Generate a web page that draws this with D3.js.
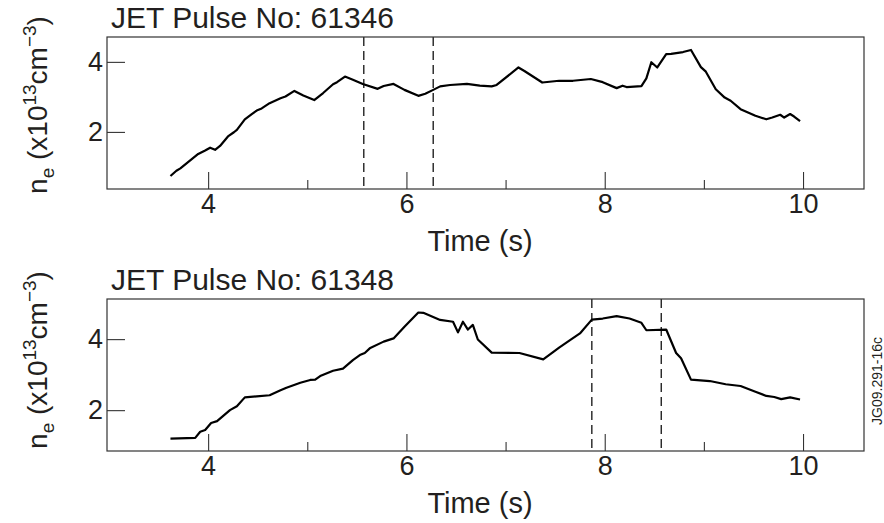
<!DOCTYPE html>
<html>
<head>
<meta charset="utf-8">
<script src="https://cdn.jsdelivr.net/npm/d3@7"></script>
<style>
  html, body { margin: 0; padding: 0; background: #fff; }
  svg { display: block; }
  text { font-family: "Liberation Sans", Arial, Helvetica, sans-serif; fill: #231f20; }
</style>
</head>
<body>
<svg id="chart" width="884" height="523"></svg>
<script>
// Electron density traces for two JET pulses
const pulseIds = ["61346", "61348"];

const time61346 = [3.62,3.68,3.72,3.90,3.97,4.02,4.07,4.12,4.20,4.26,4.29,4.37,4.44,4.49,4.54,4.62,4.73,4.78,4.87,4.96,
  5.07,5.16,5.26,5.30,5.38,5.46,5.56,5.71,5.77,5.87,5.98,6.12,6.19,6.27,6.34,6.44,6.61,6.74,6.86,6.91,
  7.13,7.19,7.37,7.54,7.68,7.86,7.98,8.12,8.18,8.22,8.37,8.42,8.47,8.53,8.62,8.67,8.79,8.87,8.97,9.02,
  9.12,9.21,9.27,9.37,9.52,9.63,9.69,9.77,9.81,9.87,9.91,9.97];
const ne61346 = [0.74,0.89,0.96,1.37,1.47,1.55,1.49,1.60,1.87,1.99,2.06,2.36,2.51,2.61,2.67,2.82,2.96,3.01,3.17,3.04,
  2.91,3.11,3.36,3.42,3.58,3.49,3.37,3.23,3.31,3.37,3.20,3.03,3.09,3.20,3.30,3.34,3.37,3.32,3.30,3.34,
  3.84,3.74,3.41,3.46,3.46,3.51,3.42,3.25,3.32,3.28,3.31,3.53,3.99,3.84,4.22,4.23,4.28,4.34,3.85,3.72,
  3.22,2.98,2.89,2.65,2.46,2.36,2.41,2.49,2.41,2.51,2.44,2.31];

const time61348 = [3.62,3.87,3.92,3.97,4.03,4.09,4.22,4.29,4.37,4.49,4.62,4.73,4.79,4.93,5.03,5.08,5.13,5.26,5.36,5.46,
  5.53,5.58,5.63,5.77,5.87,5.98,6.12,6.17,6.34,6.47,6.52,6.57,6.62,6.67,6.72,6.86,7.14,7.38,7.54,7.65,
  7.75,7.87,7.98,8.12,8.25,8.37,8.42,8.62,8.72,8.77,8.87,9.06,9.22,9.37,9.52,9.63,9.71,9.78,9.87,9.97];
const ne61348 = [1.20,1.22,1.39,1.44,1.64,1.69,2.00,2.11,2.36,2.39,2.42,2.56,2.63,2.77,2.85,2.86,2.96,3.11,3.17,3.41,
  3.55,3.61,3.74,3.93,4.02,4.35,4.75,4.74,4.54,4.49,4.19,4.49,4.27,4.40,3.99,3.62,3.61,3.43,3.76,3.97,
  4.16,4.55,4.58,4.65,4.58,4.46,4.25,4.27,3.61,3.46,2.86,2.82,2.73,2.68,2.52,2.40,2.37,2.31,2.36,2.30];

// Time window markers (dashed verticals)
const marks61346 = [5.57, 6.27];
const marks61348 = [7.87, 8.57];

// Tick values
const xMajorTicks = [4, 6, 8, 10];
const xMinorTicks = [5, 7, 9];
const yTicks = [2, 4];

const xDomain = [2.98, 10.615];
const yDomain61346 = [0.37, 4.71];
const yDomain61348 = [0.85, 5.13];

const panels = [
  { id: pulseIds[0], time: time61346, ne: ne61346, marks: marks61346, yDomain: yDomain61346, top: 37, labelY: 105 },
  { id: pulseIds[1], time: time61348, ne: ne61348, marks: marks61348, yDomain: yDomain61348, top: 299, labelY: 360 }
];

const svg = d3.select("#chart");
const left = 107, right = 864, panelH = 152;
const x = d3.scaleLinear().domain(xDomain).range([left, right]);

panels.forEach(p => {
  const bottom = p.top + panelH;
  const y = d3.scaleLinear().domain(p.yDomain).range([bottom, p.top]);
  const g = svg.append("g");

  // title
  g.append("text")
    .attr("x", 111).attr("y", p.top - 9)
    .attr("font-size", 30)
    .text("JET Pulse No: " + p.id);

  // major x ticks with labels (ticks point inward)
  const xAxis = g.append("g")
    .attr("transform", `translate(0,${bottom})`)
    .call(d3.axisBottom(x).tickValues(xMajorTicks).tickSize(-17).tickPadding(22).tickFormat(d3.format("d")));
  xAxis.select(".domain").remove();
  xAxis.selectAll("line").attr("stroke", "#333").attr("stroke-width", 1.1);
  xAxis.selectAll("text").attr("font-size", 27).attr("fill", "#231f20")
    .attr("font-family", "'Liberation Sans', Arial, sans-serif").attr("dy", "0.71em").attr("y", 5);

  // minor x ticks
  const xMinor = g.append("g")
    .attr("transform", `translate(0,${bottom})`)
    .call(d3.axisBottom(x).tickValues(xMinorTicks).tickSize(-9).tickFormat(""));
  xMinor.select(".domain").remove();
  xMinor.selectAll("line").attr("stroke", "#333").attr("stroke-width", 1.1);

  // y ticks
  const yAxis = g.append("g")
    .attr("transform", `translate(${left},0)`)
    .call(d3.axisLeft(y).tickValues(yTicks).tickSize(-18).tickPadding(4).tickFormat(d3.format("d")));
  yAxis.select(".domain").remove();
  yAxis.selectAll("line").attr("stroke", "#333").attr("stroke-width", 1.1);
  yAxis.selectAll("text").attr("font-size", 27).attr("fill", "#231f20")
    .attr("font-family", "'Liberation Sans', Arial, sans-serif").attr("x", -4);

  // dashed time-window markers
  g.selectAll("line.mark").data(p.marks).join("line")
    .attr("class", "mark")
    .attr("x1", d => x(d)).attr("x2", d => x(d))
    .attr("y1", p.top).attr("y2", bottom)
    .attr("stroke", "#111").attr("stroke-width", 1.3)
    .attr("stroke-dasharray", "9,5");

  // density trace
  const pts = p.time.map((t, i) => [t, p.ne[i]]);
  g.append("path")
    .datum(pts)
    .attr("fill", "none")
    .attr("stroke", "#000")
    .attr("stroke-width", 2.2)
    .attr("stroke-linejoin", "round")
    .attr("d", d3.line().x(d => x(d[0])).y(d => y(d[1])));

  // frame
  g.append("rect")
    .attr("x", left).attr("y", p.top)
    .attr("width", right - left).attr("height", panelH)
    .attr("fill", "none").attr("stroke", "#333").attr("stroke-width", 1.2);

  // x-axis title
  g.append("text")
    .attr("x", 480).attr("y", bottom + 62)
    .attr("text-anchor", "middle")
    .attr("font-size", 29)
    .text("Time (s)");

  // y-axis title: n_e (x10^13 cm^-3)
  const yl = g.append("text")
    .attr("transform", `translate(47,${p.labelY}) rotate(-90)`)
    .attr("text-anchor", "middle")
    .attr("font-size", 28);
  yl.append("tspan").text("n");
  yl.append("tspan").attr("font-size", 19).attr("dy", 7).text("e");
  yl.append("tspan").attr("dy", -7).text(" (x10");
  yl.append("tspan").attr("font-size", 19).attr("dy", -11).text("13");
  yl.append("tspan").attr("dy", 11).text("cm");
  yl.append("tspan").attr("font-size", 19).attr("dy", -11).text("\u22123");
  yl.append("tspan").attr("dy", 11).text(")");
});

// figure reference code
svg.append("text")
  .attr("transform", "translate(882,381) rotate(-90)")
  .attr("text-anchor", "middle")
  .attr("font-size", 14)
  .text("JG09.291-16c");
</script>
</body>
</html>
